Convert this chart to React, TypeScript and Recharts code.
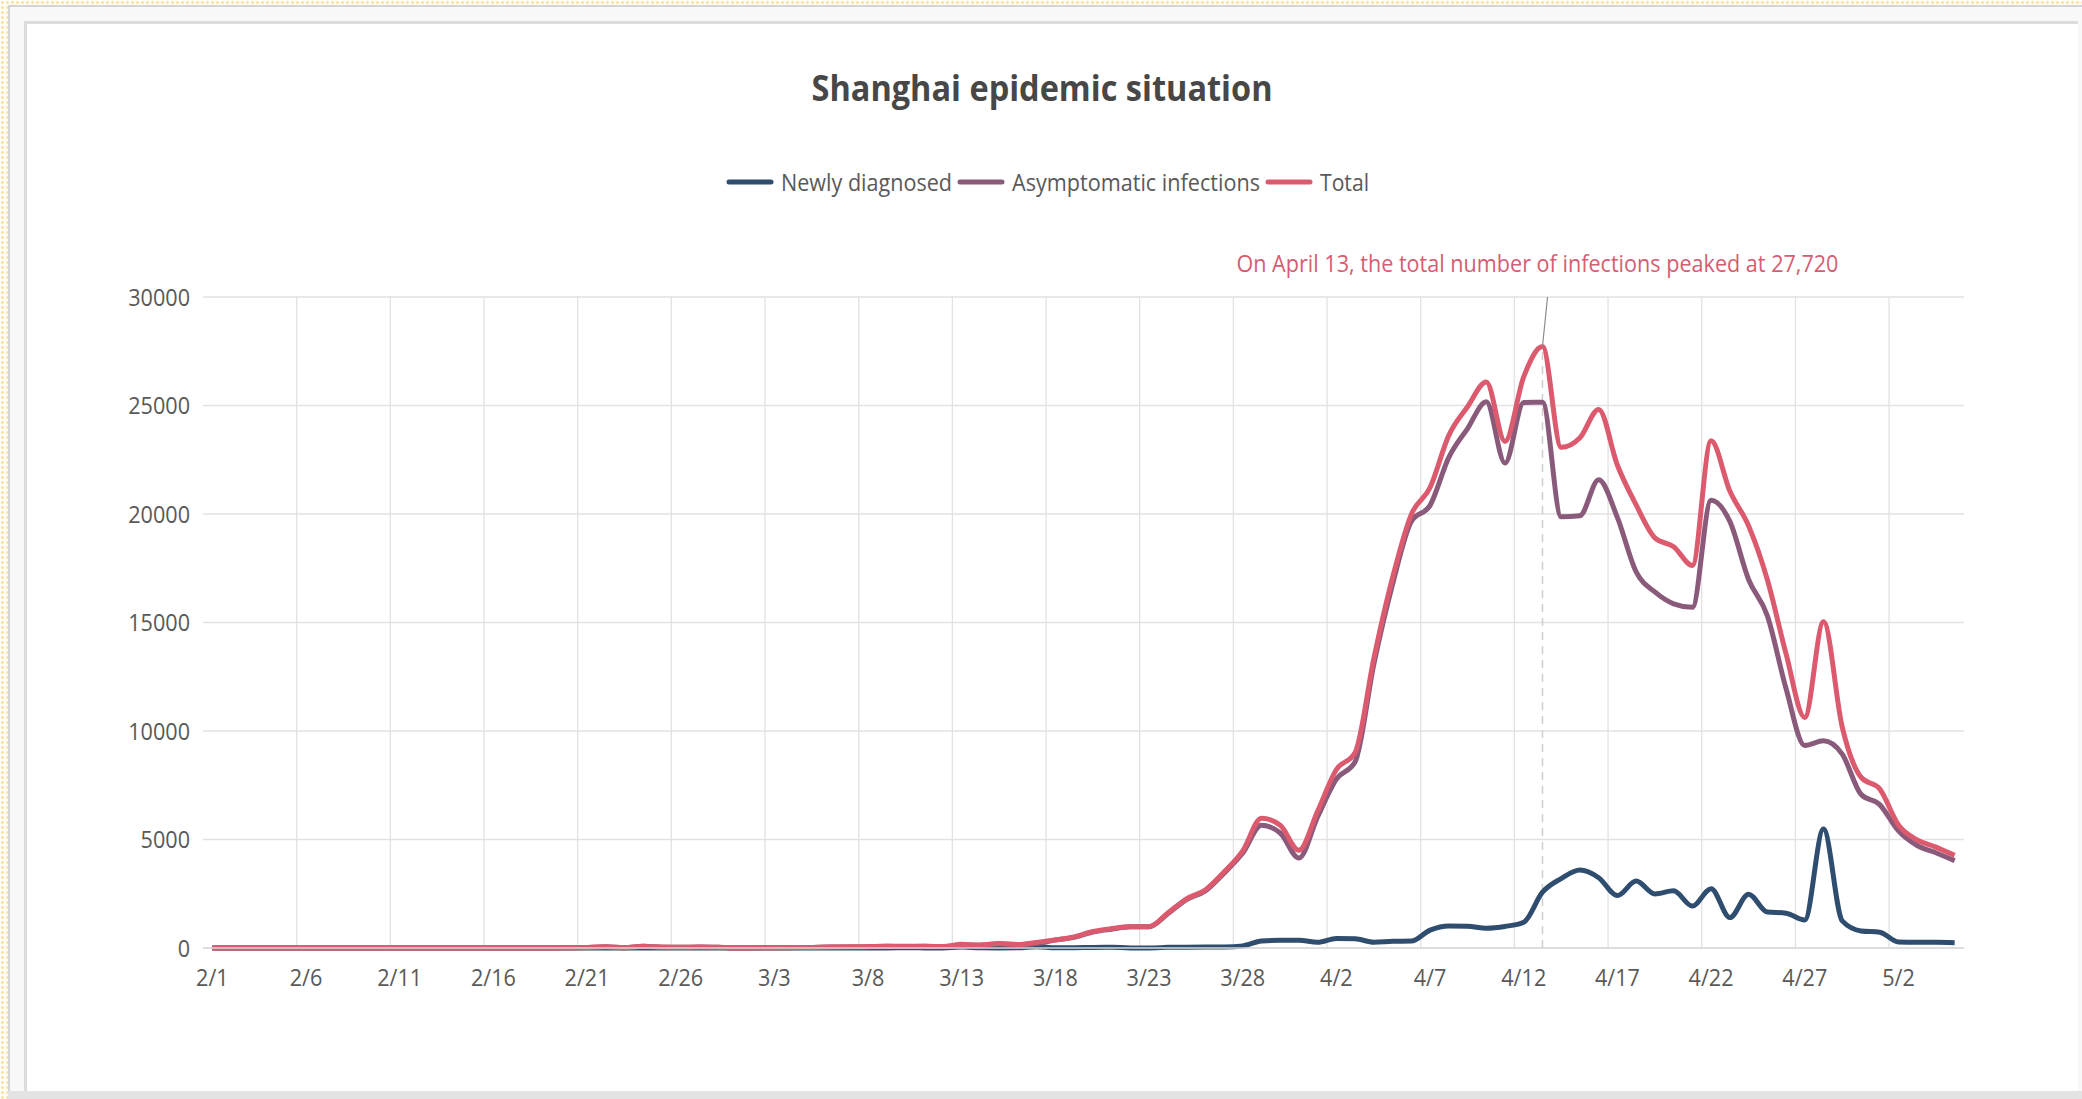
import React from 'react';
import {
  LineChart,
  Line,
  XAxis,
  YAxis,
  CartesianGrid,
  Legend,
  ReferenceLine,
  ReferenceDot,
} from 'recharts';

// day labels, 2/1 .. 5/5
const dates = [
  '2/1', '2/2', '2/3', '2/4', '2/5', '2/6', '2/7', '2/8', '2/9', '2/10',
  '2/11', '2/12', '2/13', '2/14', '2/15', '2/16', '2/17', '2/18', '2/19', '2/20',
  '2/21', '2/22', '2/23', '2/24', '2/25', '2/26', '2/27', '2/28',
  '3/1', '3/2', '3/3', '3/4', '3/5', '3/6', '3/7', '3/8', '3/9', '3/10',
  '3/11', '3/12', '3/13', '3/14', '3/15', '3/16', '3/17', '3/18', '3/19', '3/20',
  '3/21', '3/22', '3/23', '3/24', '3/25', '3/26', '3/27', '3/28', '3/29', '3/30', '3/31',
  '4/1', '4/2', '4/3', '4/4', '4/5', '4/6', '4/7', '4/8', '4/9', '4/10',
  '4/11', '4/12', '4/13', '4/14', '4/15', '4/16', '4/17', '4/18', '4/19', '4/20',
  '4/21', '4/22', '4/23', '4/24', '4/25', '4/26', '4/27', '4/28', '4/29', '4/30',
  '5/1', '5/2', '5/3', '5/4', '5/5',
];

const newlyDiagnosed = [
  0, 0, 0, 0, 0, 0, 0, 0, 0, 0, 0, 0, 0, 0, 0, 0, 0, 0, 0, 1, 2, 1, 0, 2, 3, 3, 1, 1,
  1, 3, 2, 3, 0, 3, 1, 3, 4, 11, 5, 1, 41, 9, 5, 8, 57, 8, 17, 24, 31, 4, 4, 29, 38, 45, 50, 96, 326, 355, 358,
  260, 438, 425, 268, 311, 322, 824, 1015, 1006, 914, 994, 1189, 2573, 3200, 3590, 3238, 2417, 3084, 2494, 2634,
  1931, 2736, 1401, 2472, 1661, 1606, 1292, 5487, 1249, 788,
  727, 274, 260, 261, 245,
];

const asymptomatic = [
  0, 0, 0, 0, 0, 1, 0, 0, 0, 0, 0, 0, 0, 0, 0, 0, 0, 2, 4, 10, 20, 60, 15, 80, 40, 30, 45, 30,
  1, 5, 14, 16, 28, 45, 51, 62, 76, 64, 78, 64, 128, 130, 197, 150, 203, 366, 492, 734, 865, 977, 979, 1580, 2231, 2631, 3450, 4381, 5656, 5298, 4144,
  6051, 7788, 8581, 13086, 16766, 19660, 20398, 22609, 23937, 25173, 22348, 25141, 25146, 19872, 19923, 21582, 19831, 17332, 16407, 15861,
  15698, 20634, 19657, 16983, 15319, 11956, 9330, 9545, 8932, 7084,
  6606, 5395, 4722, 4390, 4024,
];

const total = [
  0, 0, 0, 0, 0, 1, 0, 0, 0, 0, 0, 0, 0, 0, 0, 0, 0, 2, 4, 11, 22, 61, 15, 82, 43, 33, 46, 31,
  2, 8, 16, 19, 28, 48, 52, 65, 80, 75, 83, 65, 169, 139, 202, 158, 260, 374, 509, 758, 896, 981, 983, 1609, 2269, 2676, 3500, 4477, 5982, 5653, 4502,
  6311, 8226, 9006, 13354, 17077, 19982, 21222, 23624, 24943, 26087, 23342, 26330, 27720, 23072, 23513, 24820, 22248, 20416, 18901, 18495,
  17629, 23370, 21058, 19455, 16980, 13562, 10622, 15032, 10181, 7872,
  7333, 5669, 4982, 4651, 4269,
];

const xTicks = [0, 5, 10, 15, 20, 25, 30, 35, 40, 45, 50, 55, 60, 65, 70, 75, 80, 85, 90];
const yTicks = [0, 5000, 10000, 15000, 20000, 25000, 30000];
// vertical gridlines sit between categories
const gridBoundaries = [4.5, 9.5, 14.5, 19.5, 24.5, 29.5, 34.5, 39.5, 44.5, 49.5, 54.5, 59.5, 64.5, 69.5, 74.5, 79.5, 84.5, 89.5];

const seriesNames = ['Newly diagnosed', 'Asymptomatic infections', 'Total'];
const legendTextWidths: Record<string, number> = {
  'Newly diagnosed': 171,
  'Asymptomatic infections': 248,
  Total: 49,
};

const peakIndex = 71;
const peakValue = 27720;
const annotation = 'On April 13, the total number of infections peaked at 27,720';

const data = dates.map((d, i) => ({
  idx: i,
  date: d,
  newly: newlyDiagnosed[i],
  asym: asymptomatic[i],
  total: total[i],
}));

const TEXT = '#595959';
const FONT = '"Open Sans", "Noto Sans", sans-serif';

const XTick = ({ x, y, payload }: any) => (
  <g transform={`translate(${x},${y}) scale(0.9,1)`}>
    <text x={0} y={38} textAnchor="middle" fontSize={24} fill={TEXT} fontFamily={FONT}>
      {dates[payload.value]}
    </text>
  </g>
);

const YTick = ({ x, y, payload }: any) => (
  <g transform={`translate(${x},${y}) scale(0.9,1)`}>
    <text x={0} y={8.5} textAnchor="end" fontSize={24} fill={TEXT} fontFamily={FONT}>
      {payload.value}
    </text>
  </g>
);

// eslint-disable-next-line @typescript-eslint/no-explicit-any
const LegendContent = ({ payload }: any) => {
  // keep series order, recharts sorts the legend by name
  const items = [...(payload || [])].sort(
    (a: any, b: any) => seriesNames.indexOf(a.value) - seriesNames.indexOf(b.value)
  );
  const sym = 48;
  const gapText = 7;
  const gapItem = 5;
  const tw = (v: string) => legendTextWidths[v] || 60;
  const width = items.reduce((s: number, it: any) => s + sym + gapText + tw(it.value), 0)
    + gapItem * Math.max(items.length - 1, 0);
  let cursor = 1047.5 - width / 2;
  return (
    <svg width={2082} height={40} style={{ display: 'block' }}>
      {items.map((it: any, i: number) => {
        const x0 = cursor;
        const w = tw(it.value);
        cursor += sym + gapText + w + gapItem;
        return (
          <g key={`legend-${i}`}>
            <line x1={x0 + 3} x2={x0 + sym - 3} y1={20} y2={20} stroke={it.color} strokeWidth={5} strokeLinecap="round" />
            <text
              x={x0 + sym + gapText}
              y={29}
              textLength={w}
              lengthAdjust="spacingAndGlyphs"
              fontSize={24}
              fill={TEXT}
              fontFamily={FONT}
            >
              {it.value}
            </text>
          </g>
        );
      })}
    </svg>
  );
};

const AnnotationLabel = ({ viewBox }: any) => {
  if (!viewBox) return null;
  return (
    <text
      x={viewBox.x - 5}
      y={viewBox.y - 25}
      textAnchor="middle"
      textLength={602}
      lengthAdjust="spacingAndGlyphs"
      fontSize={23}
      fill="#d65c72"
      fontFamily={FONT}
    >
      {annotation}
    </text>
  );
};

const gridGenerator = ({ xAxis, offset }: any) => {
  try {
    const s = xAxis && xAxis.scale;
    if (typeof s === 'function') return gridBoundaries.map((b) => s(b));
    if (s && typeof s.map === 'function') return gridBoundaries.map((b) => s.map(b));
  } catch (e) {
    // fall through
  }
  return gridBoundaries.map((b) => offset.left + ((b + 0.5) / dates.length) * offset.width);
};

export default function App() {
  return (
    <div
      style={{
        position: 'absolute',
        left: 0,
        top: 0,
        width: 2082,
        height: 1099,
        overflow: 'hidden',
        background: 'radial-gradient(circle, #f5e3a6 1.2px, transparent 1.6px) 0 0 / 5px 5px, #fffdf6',
      }}
    >
      <div
        style={{
          position: 'absolute',
          left: 8,
          top: 5,
          right: 0,
          bottom: 0,
          background: '#f8f8f8',
          borderLeft: '2px solid #d4d4d4',
          borderTop: '2px solid #d4d4d4',
        }}
      />
      <div
        style={{
          position: 'absolute',
          left: 24,
          top: 21,
          width: 2054,
          height: 1070,
          background: '#ffffff',
          borderLeft: '3px solid #dcdcdc',
          borderTop: '3px solid #dcdcdc',
          boxSizing: 'border-box',
        }}
      />
      <div style={{ position: 'absolute', left: 8, top: 1091, width: 2074, height: 8, background: '#e3e3e3' }} />

      <svg width={2082} height={130} style={{ position: 'absolute', left: 0, top: 0 }}>
        <text
          x={1042}
          y={101}
          textAnchor="middle"
          textLength={461}
          lengthAdjust="spacingAndGlyphs"
          fontSize={36}
          fontWeight={700}
          fill="#474747"
          fontFamily={FONT}
        >
          Shanghai epidemic situation
        </text>
      </svg>

      <div style={{ position: 'absolute', left: 0, top: 0 }}>
        <LineChart
          width={2082}
          height={1099}
          data={data}
          margin={{ top: 297, right: 118, bottom: 111, left: 143 }}
        >
          <CartesianGrid
            stroke="#e2e2e2"
            strokeWidth={1.3}
            verticalCoordinatesGenerator={gridGenerator}
          />
          <XAxis
            dataKey="idx"
            type="number"
            domain={[-0.5, 93.5]}
            ticks={xTicks}
            interval={0}
            height={40}
            tickSize={0}
            tickMargin={0}
            tickLine={false}
            axisLine={{ stroke: '#d9d9d9', strokeWidth: 1.5 }}
            tick={<XTick />}
          />
          <YAxis
            type="number"
            domain={[0, 30000]}
            ticks={yTicks}
            interval={0}
            width={60}
            tickSize={0}
            tickMargin={13}
            tickLine={false}
            axisLine={false}
            tick={<YTick />}
          />
          <Legend
            layout="horizontal"
            verticalAlign="middle"
            align="center"
            content={<LegendContent />}
            wrapperStyle={{ left: 0, top: 162, width: 2082 }}
          />
          <ReferenceLine
            segment={[{ x: peakIndex, y: 0 }, { x: peakIndex, y: peakValue }]}
            stroke="#cfcfcf"
            strokeWidth={1.5}
            strokeDasharray="8 6"
          />
          <Line
            name={seriesNames[0]}
            dataKey="newly"
            type="monotone"
            stroke="#2f4d6e"
            strokeWidth={5}
            dot={false}
            activeDot={false}
            isAnimationActive={false}
          />
          <Line
            name={seriesNames[1]}
            dataKey="asym"
            type="monotone"
            stroke="#8a5a7b"
            strokeWidth={5}
            dot={false}
            activeDot={false}
            isAnimationActive={false}
          />
          <Line
            name={seriesNames[2]}
            dataKey="total"
            type="monotone"
            stroke="#dc5a6e"
            strokeWidth={5}
            dot={false}
            activeDot={false}
            isAnimationActive={false}
          />
          <ReferenceLine
            segment={[{ x: peakIndex, y: peakValue }, { x: peakIndex + 0.27, y: 30000 }]}
            stroke="#8c8c8c"
            strokeWidth={1.2}
            ifOverflow="visible"
          />
          <ReferenceDot
            x={peakIndex}
            y={30000}
            r={0}
            fill="none"
            stroke="none"
            ifOverflow="visible"
            label={<AnnotationLabel />}
          />
        </LineChart>
      </div>
    </div>
  );
}
